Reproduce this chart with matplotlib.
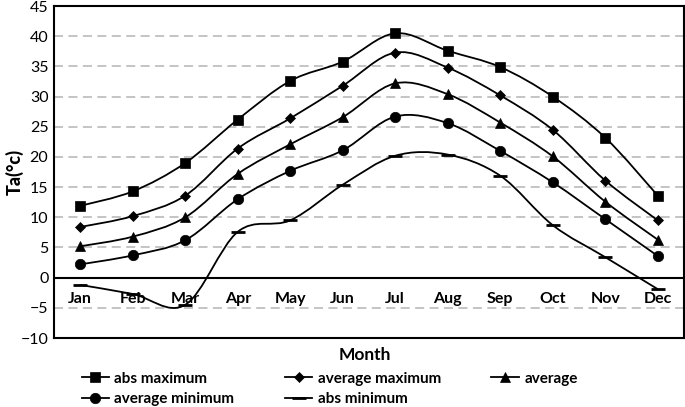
import numpy as np
import matplotlib
matplotlib.use("Agg")
import matplotlib.pyplot as plt
from matplotlib.path import Path
from matplotlib.patches import PathPatch
from matplotlib.lines import Line2D

plt.rcParams["font.family"] = ["Lato", "DejaVu Sans"]

months = ["Jan", "Feb", "Mar", "Apr", "May", "Jun",
          "Jul", "Aug", "Sep", "Oct", "Nov", "Dec"]
abs_max = [11.9, 14.3, 19.0, 26.2, 32.6, 35.8, 40.5, 37.6, 34.9, 30.0, 23.2, 13.6]
avg_max = [8.4, 10.2, 13.6, 21.4, 26.4, 31.8, 37.3, 34.8, 30.2, 24.5, 16.1, 9.5]
average = [5.2, 6.8, 10.0, 17.2, 22.1, 26.6, 32.2, 30.4, 25.7, 20.1, 12.6, 6.3]
avg_min = [2.2, 3.7, 6.2, 13.0, 17.7, 21.1, 26.7, 25.6, 21.0, 15.8, 9.7, 3.6]
abs_min = [-1.2, -2.7, -4.5, 7.6, 9.5, 15.4, 20.2, 20.4, 16.9, 8.7, 3.4, -1.9]

series = [
    ("abs maximum", abs_max, "s", 7.0),
    ("average maximum", avg_max, "D", 5.0),
    ("average", average, "^", 7.0),
    ("average minimum", avg_min, "o", 7.5),
    ("abs minimum", abs_min, "_", 10.0),
]


def smooth_path(x, y):
    """Excel style smoothed line: Catmull-Rom as cubic Bezier segments"""
    pts = np.column_stack([x, y]).astype(float)
    n = len(pts)
    verts = [pts[0]]
    codes = [Path.MOVETO]
    for i in range(n - 1):
        p0 = pts[max(i - 1, 0)]
        p1 = pts[i]
        p2 = pts[i + 1]
        p3 = pts[min(i + 2, n - 1)]
        c1 = p1 + (p2 - p0) / 6.0
        c2 = p2 - (p3 - p1) / 6.0
        verts += [c1, c2, p2]
        codes += [Path.CURVE4] * 3
    return Path(verts, codes)


fig = plt.figure(figsize=(6.85, 4.07), dpi=100)
ax = fig.add_axes([0.0788, 0.1695, 0.9197, 0.8155])

x = np.arange(len(months))
ax.set_xlim(-0.5, len(months) - 0.5)
ax.set_ylim(-10, 45)
ax.set_yticks(np.arange(-10, 46, 5))
for v in range(-5, 45, 5):
    if v != 0:
        ax.axhline(v, color="#bfbfbf", lw=1.3, ls=(0, (5, 3)), zorder=0)
ax.axhline(0, color="black", lw=1.5, zorder=1)

handles = []
for name, vals, mk, ms in series:
    ax.add_patch(PathPatch(smooth_path(x, vals), fill=False, ec="black", lw=1.3, zorder=2))
    mew = 2.0 if mk == "_" else 0.5
    ax.plot(x, vals, ls="none", marker=mk, ms=ms, color="black", mew=mew, zorder=3)
    handles.append(Line2D([], [], color="black", lw=1.3, marker=mk, ms=ms, mew=mew, label=name))

ax.set_xticks([])
for i, m in enumerate(months):
    ax.text(i, -2.4, m, ha="center", va="top", fontsize=11.5, fontweight="bold")

ax.tick_params(axis="y", length=0, labelsize=11.5, pad=4)
for s in ax.spines.values():
    s.set_linewidth(1.5)

fig.text(0.021, 0.578, "Ta(°c)", rotation=90, ha="center", va="center",
         fontsize=13, fontweight="black")
fig.text(0.532, 0.128, "Month", ha="center", va="center", fontsize=12.5, fontweight="bold")

order = [0, 3, 1, 4, 2]
fig.legend([handles[i] for i in order], [handles[i].get_label() for i in order],
           ncol=3, loc="upper left", bbox_to_anchor=(0.119, 0.087), frameon=False,
           prop={"weight": "bold", "size": 11}, handlelength=1.8, handletextpad=0.35,
           columnspacing=3.3, labelspacing=0.42, borderaxespad=0, borderpad=0)

fig.savefig("out.png", dpi=100)
